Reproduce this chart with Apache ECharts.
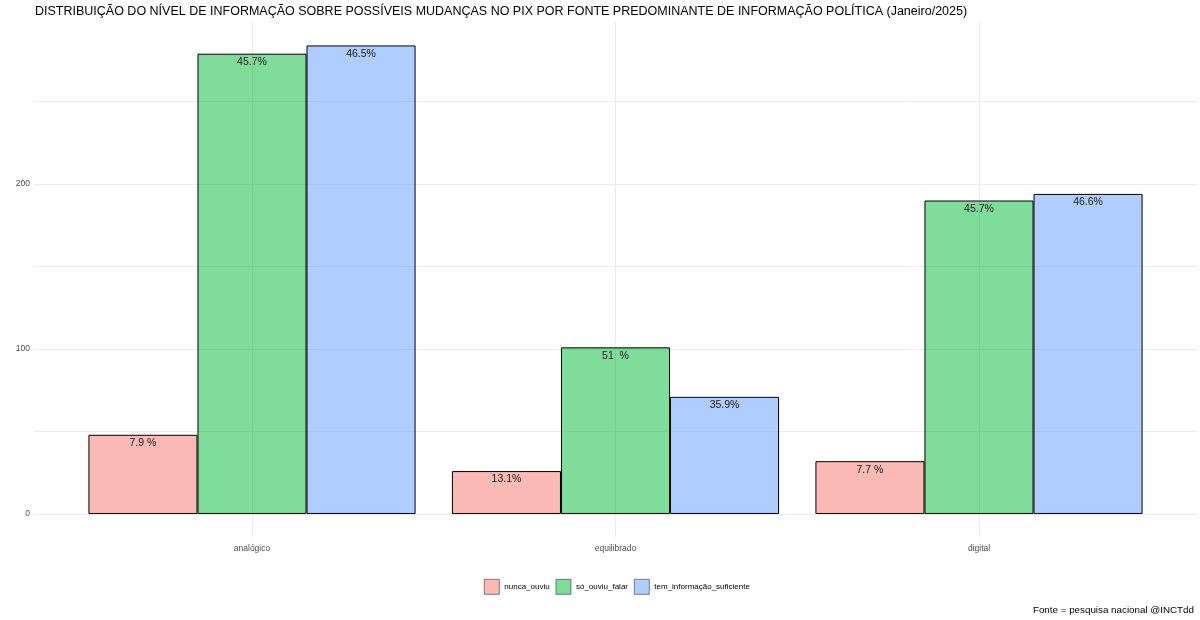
<!DOCTYPE html>
<html>
<head>
<meta charset="utf-8">
<script src="https://cdn.jsdelivr.net/npm/echarts@6/dist/echarts.min.js"></script>
<style>
    html, body { margin: 0; padding: 0; background: #fff; }
    #chart { width: 1200px; height: 620px; }
</style>
</head>
<body>
<div id="chart"></div>
<script>
// categorias (fonte predominante)
const categorias = ['analógico', 'equilibrado', 'digital']
const grupos = ['nunca_ouviu', 'só_ouviu_falar', 'tem_informação_suficiente']

// contagens por grupo
const nuncaOuviu = [48, 26, 32]
const soOuviuFalar = [279, 101, 190]
const temInformacao = [284, 71, 194]

// rótulos de percentual
const rotulosNunca = ['7.9 %', '13.1%', '7.7 %']
const rotulosSo = ['45.7%', '51  %', '45.7%']
const rotulosTem = ['46.5%', '35.9%', '46.6%']

const ticksY = [0, 50, 100, 150, 200, 250]
const labelsY = [0, 100, 200]

const cores = ['rgba(248,118,109,0.5)', 'rgba(0,186,56,0.5)', 'rgba(97,156,255,0.5)']
const fonte = 'Liberation Sans, Arial, sans-serif'

const yMin = -14.2
const yMax = 298.2

function serie (nome, valores, rotulos, cor) {
    return {
        name: nome,
        type: 'bar',
        xAxisIndex: 1,
        yAxisIndex: 1,
        barGap: '0%',
        barCategoryGap: '10%',
        data: valores,
        itemStyle: { color: cor, borderColor: '#000', borderWidth: 1 },
        label: {
            show: true,
            position: 'insideTop',
            distance: 3,
            fontFamily: fonte,
            fontSize: 10.5,
            color: '#1a1a1a',
            formatter: p => rotulos[p.dataIndex]
        }
    }
}

const chart = echarts.init(document.getElementById('chart'))
chart.setOption({
    animation: false,
    textStyle: { fontFamily: fonte },
    title: [
        {
            text: 'DISTRIBUIÇÃO DO NÍVEL DE INFORMAÇÃO SOBRE POSSÍVEIS MUDANÇAS NO PIX POR FONTE PREDOMINANTE DE INFORMAÇÃO POLÍTICA (Janeiro/2025)',
            left: 30,
            top: 0,
            textStyle: { fontFamily: fonte, fontSize: 12.5, fontWeight: 'normal', color: '#000' }
        },
        {
            text: 'Fonte = pesquisa nacional @INCTdd',
            right: 1,
            bottom: 0,
            textStyle: { fontFamily: fonte, fontSize: 9.8, fontWeight: 'normal', color: '#000' }
        }
    ],
    legend: {
        data: grupos,
        left: 479,
        top: 574,
        icon: 'rect',
        itemWidth: 15,
        itemHeight: 15,
        itemGap: 6,
        itemStyle: { borderWidth: 0.6, borderColor: '#333' },
        textStyle: { fontFamily: fonte, fontSize: 8, color: '#000' }
    },
    grid: [
        { left: 34, right: 3, top: 22, bottom: 82.6 },
        { left: 70.25, right: 39.25, top: 22, bottom: 82.6 }
    ],
    xAxis: [
        {
            type: 'value',
            gridIndex: 0,
            min: 0.4,
            max: 3.6,
            axisLine: { show: false },
            axisTick: { show: false, customValues: [1, 2, 3] },
            axisLabel: { show: false },
            splitLine: { show: true, lineStyle: { color: '#ebebeb', width: 1 } }
        },
        {
            type: 'category',
            gridIndex: 1,
            data: categorias,
            axisLine: { show: false },
            axisTick: { show: false },
            axisLabel: { fontFamily: fonte, fontSize: 8.5, color: '#4d4d4d', margin: 7 },
            splitLine: { show: false }
        }
    ],
    yAxis: [
        {
            type: 'value',
            gridIndex: 0,
            min: yMin,
            max: yMax,
            axisLine: { show: false },
            axisTick: { show: false, customValues: ticksY },
            axisLabel: { customValues: labelsY, fontFamily: fonte, fontSize: 8.5, color: '#4d4d4d', margin: 4 },
            splitLine: { show: true, lineStyle: { color: '#ebebeb', width: 1 } }
        },
        {
            type: 'value',
            gridIndex: 1,
            min: yMin,
            max: yMax,
            show: false,
            splitLine: { show: false }
        }
    ],
    series: [
        serie(grupos[0], nuncaOuviu, rotulosNunca, cores[0]),
        serie(grupos[1], soOuviuFalar, rotulosSo, cores[1]),
        serie(grupos[2], temInformacao, rotulosTem, cores[2])
    ]
})
</script>
</body>
</html>
